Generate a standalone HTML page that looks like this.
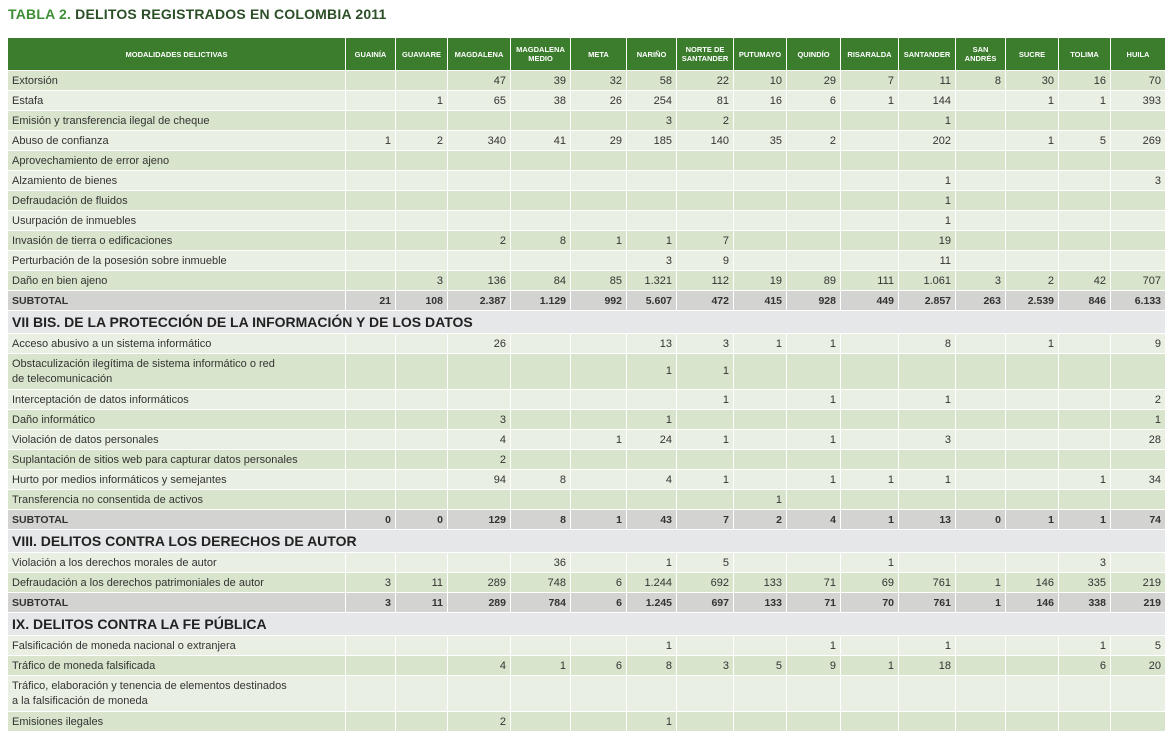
<!DOCTYPE html>
<html><head><meta charset="utf-8">
<style>
body{margin:0;background:#fff;width:1174px;height:735px;overflow:hidden;font-family:"Liberation Sans",sans-serif;}
#title{position:absolute;left:8px;top:6px;font-size:14px;font-weight:bold;color:#2c4f28;letter-spacing:0.2px}
#title span{color:#3f8f36}
table{position:absolute;left:7px;top:37px;border-collapse:collapse;table-layout:fixed;width:1158px}
td,th{border:1px solid #fff;padding:0 4px;font-size:11px;color:#333;white-space:nowrap;overflow:hidden}
th{background:#3b7d2d;color:#fff;font-size:7.5px;font-weight:bold;text-align:center;height:32px;line-height:9px;white-space:normal;padding:0 1px}
td{height:19px;line-height:12px;text-align:right}
td.l{text-align:left;padding-left:4px}
tr.a td{background:#d8e4cc}
tr.b td{background:#e9efe2}
tr.s td{background:#d3d4d2;font-weight:bold;font-size:10.5px}
tr.h td{background:#e6e7e8;font-weight:bold;font-size:14px;height:22px;color:#222}
tr.t td{height:35px;white-space:nowrap;line-height:15px}
</style></head><body>
<div id="title"><span>TABLA 2.</span> DELITOS REGISTRADOS EN COLOMBIA 2011</div>
<table id="tbl">
<colgroup><col style="width:338px"><col style="width:50px"><col style="width:52px"><col style="width:63px"><col style="width:60px"><col style="width:56px"><col style="width:50px"><col style="width:57px"><col style="width:53px"><col style="width:54px"><col style="width:58px"><col style="width:57px"><col style="width:50px"><col style="width:53px"><col style="width:52px"><col style="width:55px"></colgroup>
<thead><tr id="hdr"></tr></thead>
<tbody id="body"></tbody>
</table>
<script>
const columns=["MODALIDADES DELICTIVAS","GUAINÍA","GUAVIARE","MAGDALENA","MAGDALENA MEDIO","META","NARIÑO","NORTE DE SANTANDER","PUTUMAYO","QUINDÍO","RISARALDA","SANTANDER","SAN ANDRÉS","SUCRE","TOLIMA","HUILA"];
const rows=[
["a","Extorsión","","","47","39","32","58","22","10","29","7","11","8","30","16","70"],
["b","Estafa","","1","65","38","26","254","81","16","6","1","144","","1","1","393"],
["a","Emisión y transferencia ilegal de cheque","","","","","","3","2","","","","1","","","",""],
["b","Abuso de confianza","1","2","340","41","29","185","140","35","2","","202","","1","5","269"],
["a","Aprovechamiento de error ajeno","","","","","","","","","","","","","","",""],
["b","Alzamiento de bienes","","","","","","","","","","","1","","","","3"],
["a","Defraudación de fluidos","","","","","","","","","","","1","","","",""],
["b","Usurpación de inmuebles","","","","","","","","","","","1","","","",""],
["a","Invasión de tierra o edificaciones","","","2","8","1","1","7","","","","19","","","",""],
["b","Perturbación de la posesión sobre inmueble","","","","","","3","9","","","","11","","","",""],
["a","Daño en bien ajeno","","3","136","84","85","1.321","112","19","89","111","1.061","3","2","42","707"],
["s","SUBTOTAL","21","108","2.387","1.129","992","5.607","472","415","928","449","2.857","263","2.539","846","6.133"],
["h","VII BIS. DE LA PROTECCIÓN DE LA INFORMACIÓN Y DE LOS DATOS"],
["b","Acceso abusivo a un sistema informático","","","26","","","13","3","1","1","","8","","1","","9"],
["at","Obstaculización ilegítima de sistema informático o red\nde telecomunicación","","","","","","1","1","","","","","","","",""],
["b","Interceptación de datos informáticos","","","","","","","1","","1","","1","","","","2"],
["a","Daño informático","","","3","","","1","","","","","","","","","1"],
["b","Violación de datos personales","","","4","","1","24","1","","1","","3","","","","28"],
["a","Suplantación de sitios web para capturar datos personales","","","2","","","","","","","","","","","",""],
["b","Hurto por medios informáticos y semejantes","","","94","8","","4","1","","1","1","1","","","1","34"],
["a","Transferencia no consentida de activos","","","","","","","","1","","","","","","",""],
["s","SUBTOTAL","0","0","129","8","1","43","7","2","4","1","13","0","1","1","74"],
["h","VIII. DELITOS CONTRA LOS DERECHOS DE AUTOR"],
["b","Violación a los derechos morales de autor","","","","36","","1","5","","","1","","","","3",""],
["a","Defraudación a los derechos patrimoniales de autor","3","11","289","748","6","1.244","692","133","71","69","761","1","146","335","219"],
["s","SUBTOTAL","3","11","289","784","6","1.245","697","133","71","70","761","1","146","338","219"],
["h","IX. DELITOS CONTRA LA FE PÚBLICA"],
["b","Falsificación de moneda nacional o extranjera","","","","","","1","","","1","","1","","","1","5"],
["a","Tráfico de moneda falsificada","","","4","1","6","8","3","5","9","1","18","","","6","20"],
["bt","Tráfico, elaboración y tenencia de elementos destinados\na la falsificación de moneda","","","","","","","","","","","","","","",""],
["a","Emisiones ilegales","","","2","","","1","","","","","","","","",""]
];
const hdr=document.getElementById('hdr');
columns.forEach((c,i)=>{const th=document.createElement('th');th.textContent=c;


hdr.appendChild(th);});
const body=document.getElementById('body');
rows.forEach(r=>{const tr=document.createElement('tr');const t=r[0];
tr.className=t.length>1?t[0]+' t':t;


if(t=='h'){const td=document.createElement('td');td.colSpan=16;td.className='l';td.textContent=r[1];


tr.appendChild(td);}
else{for(let i=1;i<r.length;i++){const td=document.createElement('td');
if(i==1){td.className='l';r[i].split('\n').forEach((p,k)=>{if(k)td.appendChild(document.createElement('br'));td.appendChild(document.createTextNode(p));});}
else td.textContent=r[i];


tr.appendChild(td);}}
body.appendChild(tr);});
</script>
</body></html>
